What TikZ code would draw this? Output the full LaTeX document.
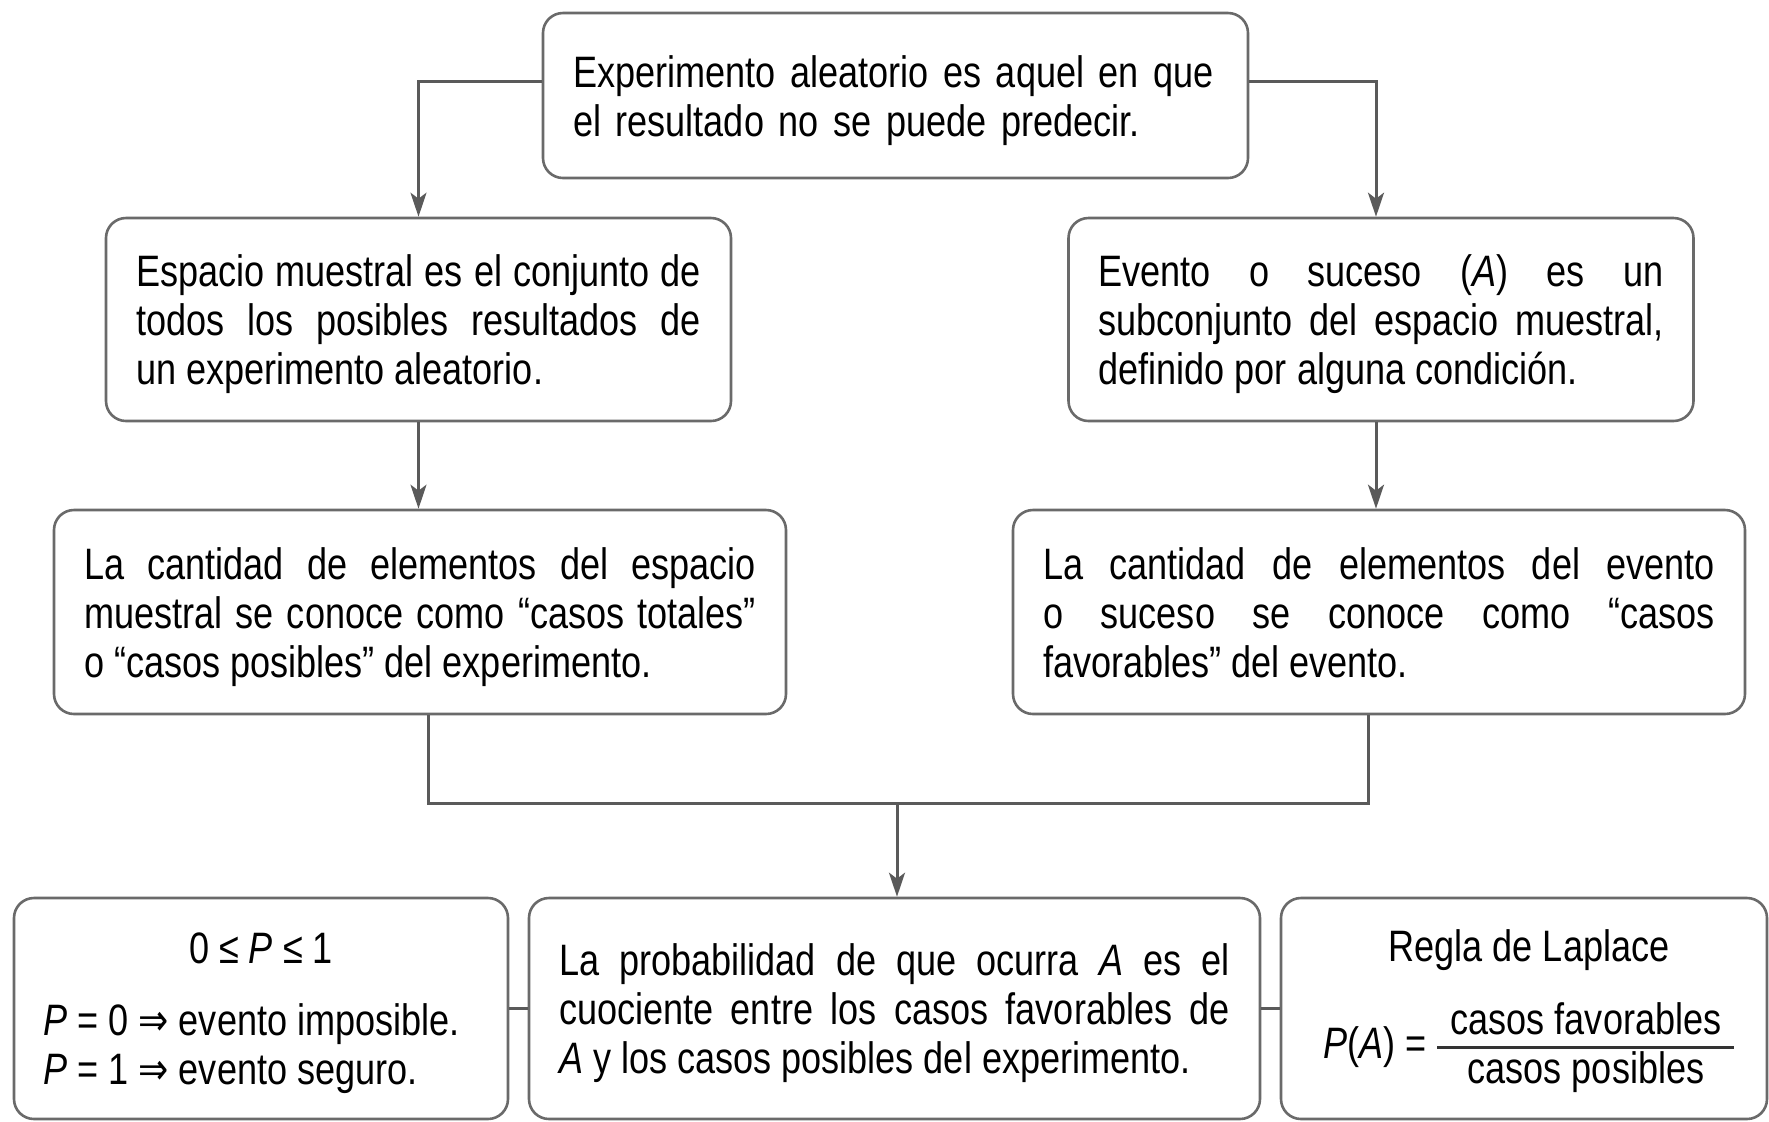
\documentclass[tikz,border=0pt]{standalone}
\usepackage{fontspec}
\setmainfont{Liberation Sans}[FakeStretch=0.82]
\newfontfamily\symf{DejaVu Sans}[FakeStretch=0.82]
\usetikzlibrary{arrows.meta}
\definecolor{boxc}{HTML}{6A6A6A}
\definecolor{linec}{HTML}{5A5A5A}
\tikzset{
  box/.style={draw=boxc, line width=1.3pt, rounded corners=10pt, fill=white,
    inner xsep=15pt, inner ysep=0pt, font=\fontsize{22}{24.5}\selectfont, align=justify},
  boxtext/.style={execute at begin node={\rule{0pt}{21pt}},
    execute at end node={\rule[-4.7pt]{0pt}{1pt}}},
  txt/.style={inner sep=0pt, font=\fontsize{22}{24.5}\selectfont},
  conn/.style={draw=linec, line width=1.5pt},
  arr/.style={conn, -{Stealth[length=12pt,width=8pt,inset=3pt]}},
}
\begin{document}
\begin{tikzpicture}[x=0.5pt,y=-0.5pt]
\useasboundingbox (0,0) rectangle (1769,1121);
% top
\node[box, boxtext, text width=322.5pt, minimum height=82.5pt, align=left] (top) at (895.5,95.5)
  {Experimento aleatorio es aquel en que\\el resultado no se puede predecir.};
% second row
\node[box, boxtext, text width=282.5pt, minimum height=101.5pt] (L1) at (418.5,319.5)
  {Espacio muestral es el conjunto de\linebreak todos los posibles resultados de\linebreak un experimento aleatorio.};
\node[box, boxtext, text width=282.5pt, minimum height=101.5pt] (R1) at (1381,319.5)
  {Evento o suceso (\textit{A}) es un\linebreak subconjunto del espacio muestral,\linebreak definido por alguna condición.};
% third row
\node[box, boxtext, text width=336pt, minimum height=102pt] (L2) at (420,612)
  {La cantidad de elementos del espacio\linebreak muestral se conoce como “casos totales”\linebreak o “casos posibles” del experimento.};
\node[box, boxtext, text width=336pt, minimum height=102pt] (R2) at (1379,612)
  {La cantidad de elementos del evento\linebreak o suceso se conoce como “casos\linebreak favorables” del evento.};
% bottom row
\node[box, minimum width=247pt, minimum height=110.5pt] (B1) at (261,1008.5) {};
\node[box, boxtext, text width=335.5pt, minimum height=110.5pt] (B2) at (894.5,1008.5)
  {La probabilidad de que ocurra \textit{A} es el\linebreak cuociente entre los casos favorables de\linebreak \textit{A} y los casos posibles del experimento.};
\node[box, minimum width=243pt, minimum height=110.5pt] (B3) at (1524,1008.5) {};
% B1 content
\node[txt] (b1a) at (261,948) {0 ≤ \textit{P} ≤ 1};
\node[txt, anchor=west, align=left] (b1b) at (43,1049)
  {\textit{P} = 0 {\symf ⇒} evento imposible.\\\textit{P} = 1 {\symf ⇒} evento seguro.};
% B3 content
\node[txt] (b3a) at (1529,950) {Regla de Laplace};
\node[txt, anchor=east] (b3p) at (1427,1047) {\textit{P}(\textit{A}) =};
\node[txt] (b3n) at (1586,1019) {casos favorables};
\node[txt] (b3d) at (1586,1072) {casos posibles};
\coordinate (barl) at (1437,1047);
\coordinate (barr) at (1734,1047);
\draw[line width=1.5pt, black!80] (barl) -- (barr);
% connectors
\coordinate (rx) at (1376,0);
\draw[arr] ([yshift=7pt]top.west) -| (L1.north);
\draw[arr] ([yshift=7pt]top.east) -| (rx |- R1.north);
\draw[arr] (L1.south) -- (L1.south |- L2.north);
\draw[arr] (rx |- R1.south) -- (rx |- R2.north);
\coordinate (m) at (897,803);
\draw[conn] ([xshift=4pt]L2.south) |- (m) -| ([xshift=-5.5pt]R2.south);
\draw[arr] (m) -- (m |- B2.north);
\draw[conn] (B1.east) -- (B2.west);
\draw[conn] (B2.east) -- (B3.west);
\end{tikzpicture}
\end{document}
